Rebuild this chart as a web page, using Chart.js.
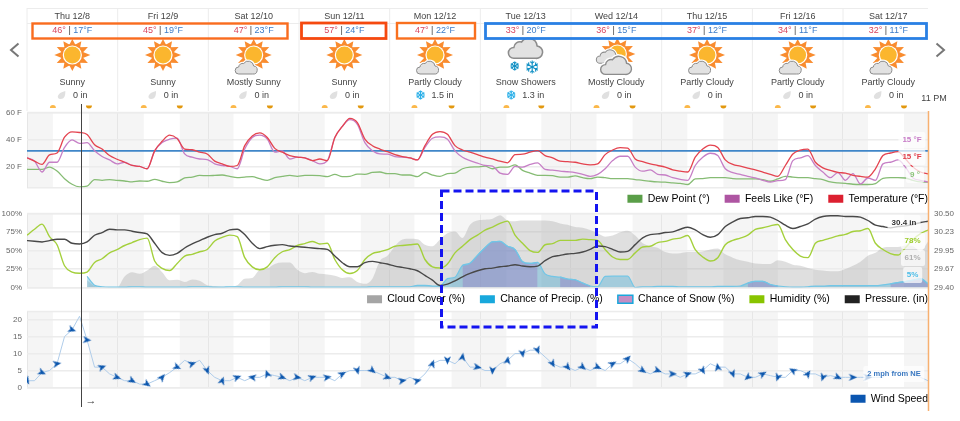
<!DOCTYPE html>
<html>
<head>
<meta charset="utf-8">
<title>10 day forecast</title>
<script src="https://cdn.jsdelivr.net/npm/chart.js@4"></script>
<style>
  html, body { margin: 0; padding: 0; background: #fff; }
  body { position: relative; width: 960px; height: 421px; overflow: hidden; font-family: "Liberation Sans", Arial, sans-serif; color: #444; }
  canvas { position: absolute; left: 0; }
  #overlay { position: absolute; left: 0; top: 0; }
  .txt { position: absolute; white-space: nowrap; transform: translate(-50%, -50%); font-size: 9px; line-height: 11px; }
  .hi { color: #d8435c; }
  .lo { color: #3c7cc8; }
  .tag { position: absolute; white-space: nowrap; transform: translate(-50%, -50%); font-size: 8px; font-weight: bold; line-height: 10px;
         padding: 3px 4px; background: rgba(255,255,255,.72); border-radius: 2px; }
</style>
</head>
<body>
<canvas id="tempChart" width="960" height="120" style="top:103px"></canvas>
<canvas id="humChart" width="960" height="120" style="top:203px"></canvas>
<canvas id="windChart" width="960" height="121" style="top:302px"></canvas>
<svg id="overlay" width="960" height="421" xmlns="http://www.w3.org/2000/svg"></svg>
<div id="texts"></div>

<script>
// шапка прогноза
const dayLabels = ['Thu 12/8', 'Fri 12/9', 'Sat 12/10', 'Sun 12/11', 'Mon 12/12', 'Tue 12/13', 'Wed 12/14', 'Thu 12/15', 'Fri 12/16', 'Sat 12/17'];
const highTemps = [46, 45, 47, 57, 47, 33, 36, 37, 34, 32];
const lowTemps = [17, 19, 23, 24, 22, 20, 15, 12, 11, 11];
const conditions = ['Sunny', 'Sunny', 'Mostly Sunny', 'Sunny', 'Partly Cloudy', 'Snow Showers', 'Mostly Cloudy', 'Partly Cloudy', 'Partly Cloudy', 'Partly Cloudy'];
const precipTotals = ['0 in', '0 in', '0 in', '0 in', '1.5 in', '1.3 in', '0 in', '0 in', '0 in', '0 in'];

// часы на оси
const sunriseHours = [6.9, 31.1, 55, 79.3, 103.2, 127.7, 151.7, 175.9, 200, 224];
const sunsetHours = [16.5, 40.7, 64.7, 88.9, 113.1, 137, 161.3, 185.5, 209.4, 233.6];
const dayStarts = [0, 24.1, 48.3, 72.4, 96.6, 120.7, 144.9, 169, 193.2, 217.3];
const sampleHours = Array.from({ length: 121 }, (_, i) => i * 2);

const tempTicks = [20, 40, 60];
const windTicks = [0, 5, 10, 15, 20];
const pressureTicks = [29.4, 29.675, 29.95, 30.225, 30.5];
const pressureTickLabels = ['29.40', '29.67', '29.95', '30.23', '30.50'];
const freezingLine = [32, 32];

const temperature = [
  26.8, 24.4, 22, 29, 30.4, 42, 46, 45.5, 44, 36.5,
  33.3, 28.5, 25.8, 23.6, 21.2, 20.5, 18.8, 32, 39, 43.5,
  41, 33.3, 32.8, 31, 29.7, 24.4, 22.4, 20.5, 21.2, 35.8,
  43, 45.2, 41.8, 33.8, 31, 28.5, 27.3, 26.8, 24.8, 26,
  24.8, 41.8, 50, 55.9, 52.7, 40.6, 35.8, 33.3, 31.4, 29.2,
  27.8, 26.8, 25.3, 35.8, 44.2, 46.2, 44.2, 35.8, 32.6, 31,
  29.2, 27.3, 26, 24.4, 23.2, 29.2, 29.5, 31, 32.1, 28.5,
  26.8, 24.4, 24, 23.6, 22.4, 21.7, 22.4, 29.2, 32.6, 34.3,
  34, 26, 24, 22.4, 21.2, 20, 18, 17, 16.4, 27.3,
  33.3, 36.2, 34.5, 25.3, 22, 20.7, 19.3, 18, 16.4, 14.7,
  13.2, 21.2, 29.7, 32.6, 33.3, 23.6, 19.5, 17.6, 16.1, 15.6,
  14, 13.2, 12.7, 18.8, 28.5, 30.4, 31.4, 26, 20, 16.4,
  15
];
const feelsLike = [
  26.8, 24.4, 16.4, 23.6, 23.6, 34.5, 40, 37.5, 38, 32,
  27.8, 25.3, 22.4, 23.6, 21.2, 20.5, 18.8, 32, 38.2, 40.6,
  41.3, 29.7, 27.3, 26, 25.6, 22.4, 21.2, 20.5, 18.8, 33.3,
  41.8, 43.5, 40.6, 31, 32, 26, 27.3, 26.8, 24.8, 22.4,
  24.8, 41.8, 50, 55, 51.5, 38, 32, 29.7, 29.5, 27.8,
  27.3, 26.8, 25.3, 34.5, 41.3, 42.3, 40.6, 32, 27.3, 24.8,
  23, 21.2, 20.7, 15.6, 14.7, 20.5, 20, 22, 23.2, 18.3,
  17.8, 17, 16.6, 16, 14.7, 13.2, 14.7, 18.8, 24.8, 28,
  28, 20, 17, 18, 14.7, 14.2, 12.2, 11, 10.3, 21.2,
  27.3, 30.2, 28.5, 18.8, 15.9, 14.7, 13.2, 12, 10.3, 9,
  10, 10.8, 24.8, 26.8, 28.5, 21.2, 16.4, 12.2, 16, 10.3,
  15.2, 7.6, 12, 10.3, 22.4, 23.6, 25.3, 20, 12, 10.3,
  9
];
const dewPoint = [
  18.3, 18.3, 18.3, 20, 17.1, 11.5, 7.4, 5.5, 6, 10.8,
  10.3, 10.8, 10.3, 9.8, 9.1, 9.8, 9.6, 11, 9.6, 8.6,
  9.1, 12, 12.7, 13.9, 13.7, 13.9, 14.2, 13.2, 12.2, 12.7,
  13, 11.5, 10.3, 12.2, 13.2, 13.9, 13.2, 13.9, 13.9, 13.7,
  13, 14.7, 13, 13.2, 14.9, 14.7, 16.1, 16.4, 15.2, 15.2,
  14.2, 14.2, 13, 16.1, 14.2, 13.2, 15.2, 15.6, 18.8, 20,
  20.2, 20.7, 18.8, 20, 20, 21.7, 17.6, 15.6, 13.9, 13.9,
  13.7, 12.7, 12.7, 13.5, 12.2, 11.5, 12.7, 12.2, 11.5, 11.5,
  11.5, 10.8, 10.3, 9.6, 9.1, 8.9, 8.4, 8, 7.2, 11.3,
  11.5, 12.2, 12.2, 12.2, 11.5, 11.3, 11.3, 11.3, 10.8, 9.6,
  11.3, 13.2, 12.7, 12.2, 12.2, 11.5, 10.8, 9.1, 8.4, 8.1,
  7.4, 7.2, 7.2, 7.9, 11.8, 12.2, 12.2, 12, 10.3, 9.1,
  8.9
];
const humidity = [
  71, 79, 86, 69, 58, 29.5, 21, 19.4, 21, 34,
  39, 47, 51.5, 57, 61, 65, 67, 36, 26, 23,
  32.6, 42.7, 45, 48.5, 51.5, 63, 68, 71, 69, 40.5,
  28, 24, 28, 40.5, 48.5, 51.5, 57, 59.5, 62.5, 59,
  60, 38, 24, 19, 23, 38, 46, 48.5, 51.5, 56,
  57, 58, 59, 38, 28, 26.4, 32, 47, 56, 65,
  71, 78, 82, 87, 90, 71, 60, 50, 47.6, 58,
  59.5, 64, 64, 64, 65.6, 65, 64, 51.5, 41.4, 38,
  38, 47, 55, 56, 61, 62.5, 65.6, 67, 70.5, 51.5,
  41.4, 36, 40.5, 58, 64, 67, 71, 79, 81, 83.7,
  85.5, 65, 51.5, 42.7, 40.5, 60, 64, 67, 70, 72,
  76, 77, 80, 60, 51.5, 46, 44, 54, 65, 73,
  78
];
const pressure = [
  30.10, 30.09, 30.08, 30.10, 30.12, 30.12, 30.06, 30.05, 30.08, 30.18,
  30.22, 30.27, 30.26, 30.26, 30.24, 30.22, 30.20, 30.06, 29.92, 29.88,
  29.91, 29.99, 30.05, 30.10, 30.15, 30.19, 30.21, 30.26, 30.27, 30.19,
  30.06, 29.98, 30.01, 30.03, 30.04, 30.02, 30.01, 30.0, 29.99, 29.98,
  29.97, 29.87, 29.77, 29.71, 29.71, 29.77, 29.79, 29.77, 29.75, 29.72,
  29.70, 29.68, 29.65, 29.58, 29.51, 29.43, 29.45, 29.50, 29.56, 29.61,
  29.65, 29.68, 29.69, 29.71, 29.72, 29.74, 29.72, 29.71, 29.72, 29.80,
  29.86, 29.88, 29.90, 29.91, 29.93, 29.97, 30.02, 30.01, 29.97, 29.93,
  29.94, 30.04, 30.14, 30.19, 30.20, 30.22, 30.23, 30.27, 30.30, 30.26,
  30.19, 30.15, 30.19, 30.31, 30.38, 30.43, 30.44, 30.46, 30.46, 30.45,
  30.40, 30.33, 30.28, 30.31, 30.35, 30.42, 30.46, 30.47, 30.47, 30.46,
  30.46, 30.45, 30.40, 30.33, 30.31, 30.29, 30.31, 30.32, 30.34, 30.37,
  30.39
];
const cloudCover = [
  null, null, null, null, null, null, null, null, 10, 2,
  0, 0, 0, 15, 20.7, 18.5, 23, 29.5, 20.7, 9.7,
  10.5, 7.5, 11, 9, 3, 2, 1, 1, 3, 12,
  13, 24, 26, 32, 34, 34, 24, 19.4, 21, 18.5,
  17.6, 16, 13, 14, 7.5, 5, 12, 36, 43, 56,
  65, 66, 65.6, 58, 56, 65, 73.6, 76, 67, 85,
  91, 92, 93.4, 98, 91, 90, 91, 91, 91, 91,
  90, 87, 85, 82, 81, 78, 73.6, 69, 70.5, 75,
  77, 70.5, 60, 56, 54, 48, 46, 46.5, 48, 48,
  49, 51.5, 53, 45, 40.5, 37, 35, 32.6, 32, 32,
  37, 35, 31, 29.5, 26.4, 24, 23, 22, 22, 25,
  29.5, 35, 43, 47, 54, 55, 55, 57, 56, 49,
  62
];
const precipChance = [
  null, null, null, null, null, null, null, null, 15, 3,
  1, 0.5, 0.5, 0.5, 1, 1, 0.5, 0.5, 0.5, 0.5,
  0.5, 0.5, 1, 1, 1, 0.5, 0.5, 1, 1, 0.5,
  0.5, 0.5, 0.5, 0.5, 1, 1, 1, 1, 0.5, 0.5,
  0.5, 0.5, 0.5, 0.5, 0.5, 0.5, 1, 1, 1, 1,
  1, 1, 3, 3, 2, 2, 12, 14, 30, 33,
  43.6, 54, 62, 62.5, 56, 51.5, 35, 32.6, 34, 18.5,
  15, 14, 11.5, 10.5, 6, 2, 1, 15, 15.4, 15.4,
  15.4, 0, 1, 1, 1.5, 1.5, 1.5, 1, 1, 1,
  1, 1, 1.5, 1.5, 1.5, 2, 6, 8.4, 8.4, 4,
  2, 1, 0.5, 0.5, 1, 2, 2, 2.5, 2.5, 2.5,
  2.5, 2.5, 2.5, 2.5, 3.5, 5, 6.6, 8, 10, 12,
  5
];
const snowChance = [
  null, null, null, null, null, null, null, null, null, null,
  null, null, null, null, null, null, null, null, null, null,
  null, null, null, null, null, null, null, null, null, null,
  null, null, null, null, null, null, null, null, null, null,
  null, null, null, null, null, null, null, null, null, null,
  null, null, null, null, null, null, null, null, 30, 33,
  43.6, 54, 62, 62.5, 56, 51.5, 35, 32.6, 34, null,
  null, 14, 11.5, 10.5, 6, 2, null, null, null, null,
  null, null, null, null, null, null, null, null, null, null,
  null, null, null, null, null, null, 6, 8.4, 8.4, 4,
  2, null, null, null, null, null, null, null, null, null,
  null, null, null, null, null, 5, 6.6, 8, 10, 12,
  5
];
const windSpeed = [
  2, 2, 4.4, 5, 7, 15, 17, 21, 14, 6,
  6, 4, 3, 2, 2, 1, 1, 2, 3, 4.4,
  6, 8, 7, 8, 5, 3, 2, 2, 3, 2,
  3, 3, 4, 3.5, 3, 2, 3, 2, 3, 3,
  3, 2, 4, 5, 5, 5, 5, 4, 3, 3,
  2, 3, 2, 4, 7, 8, 8, 7, 9, 6,
  6, 5, 5, 7, 8, 10, 10, 11, 11, 9,
  7, 6, 6, 5, 6, 5, 6, 5, 7, 7,
  8.5, 7, 5, 4, 5, 4, 4, 3, 4, 4,
  5, 7, 6, 6, 4, 4, 3, 3, 4, 3.5,
  3, 3, 5, 5, 4, 4, 3, 3.5, 3, 3,
  3, 3, 3, 3, 3, 5, 4.5, 5, 4, 3,
  2
];
// направление стрелки каждые 4 часа, градусы по часовой от севера
const windArrowDirs = [
  150, 115, 80, 110, 95, 70, 110, 120, 125, 40,
  115, 70, 160, 20, 70, 280, 340, 110, 100, 70,
  80, 60, 165, 130, 110, 80, 75, 20, 180, 10,
  100, 185, 10, 170, 160, 150, 140, 130, 115, 60,
  45, 125, 110, 90, 70, 150, 350, 160, 230, 60,
  200, 300, 35, 200, 115, 90, 90, 90, 0, 0,
  0
];

const PLOT_LEFT = 27;
const PLOT_RIGHT = 928;
const HOUR_PX = (PLOT_RIGHT - PLOT_LEFT) / 240;
const DAY_PX = 90.67;
const FONT = '"Liberation Sans", Arial, sans-serif';

function toPoints(values) {
  return values.map((v, i) => ({ x: sampleHours[i], y: v }));
}

const dayBands = {
  id: 'dayBands',
  beforeDraw(chart) {
    const { ctx, chartArea: a, scales: { x } } = chart;
    ctx.save();
    ctx.fillStyle = '#f5f5f5';
    ctx.fillRect(a.left, a.top, a.width, a.height);
    ctx.fillStyle = '#ffffff';
    sunriseHours.forEach((h, i) => {
      const x0 = x.getPixelForValue(h);
      ctx.fillRect(x0, a.top, x.getPixelForValue(sunsetHours[i]) - x0, a.height);
    });
    ctx.fillStyle = '#ececec';
    ctx.fillRect(a.left, a.top - 1, a.width, 1.5);
    ctx.fillRect(a.left, a.bottom - 0.5, a.width, 1.5);
    ctx.restore();
  }
};

// подвинуть легенду ближе к графику
const legendShift = {
  id: 'legendShift',
  afterLayout(chart, args, opts) {
    const l = chart.legend;
    l.top += opts.dy;
    l.bottom += opts.dy;
    l.left += 15;
    l.right += 15;
  }
};

function baseOptions(topPad, right, dy, yScales) {
  return {
    responsive: false,
    animation: false,
    events: [],
    layout: { padding: { top: topPad, right: right, left: 0, bottom: 0 } },
    elements: { point: { radius: 0 }, line: { cubicInterpolationMode: 'monotone' } },
    scales: Object.assign({
      x: {
        type: 'linear', min: 0, max: 240,
        border: { display: false },
        grid: { color: '#e6e6e6', drawTicks: false },
        ticks: { display: false, autoSkip: false },
        afterBuildTicks: (s) => { s.ticks = dayStarts.map(v => ({ value: v })); }
      }
    }, yScales),
    plugins: {
      tooltip: { enabled: false },
      legendShift: { dy: dy },
      legend: {
        position: 'bottom',
        align: 'end',
        fullSize: false,
        labels: {
          boxWidth: 15, boxHeight: 8, padding: 15, color: '#555',
          font: { family: FONT, size: 10.5 },
          generateLabels: (chart) => chart.data.datasets
            .map((d, i) => ({
              text: d.label, fillStyle: d.legendFill, strokeStyle: d.legendStroke || d.legendFill,
              lineWidth: d.legendStroke ? 1.5 : 0, datasetIndex: i, hidden: false
            }))
            .filter(it => it.text)
        }
      }
    }
  };
}

function leftAxis(extra) {
  return Object.assign({
    position: 'left',
    border: { display: false },
    grid: { color: '#ececec', lineWidth: 1.5, drawTicks: false },
    afterFit: (s) => { s.width = PLOT_LEFT; }
  }, extra);
}

const tickFont = { family: FONT, size: 8 };

function lineSet(label, values, color, width, order, legendFill) {
  return { label, data: toPoints(values), borderColor: color, borderWidth: width, fill: false, order, legendFill };
}

function areaSet(label, values, fillColor, lineColor, order, legendFill, legendStroke) {
  return {
    label, data: toPoints(values), borderColor: lineColor, borderWidth: lineColor === 'transparent' ? 0 : 1.2,
    backgroundColor: fillColor, fill: 'origin', spanGaps: false, order, legendFill, legendStroke
  };
}

new Chart(document.getElementById('tempChart'), {
  type: 'line',
  data: {
    datasets: [
      lineSet('Dew Point (°)', dewPoint, '#86bc74', 1.3, 2, '#5a9e48'),
      lineSet('Feels Like (°F)', feelsLike, '#c67fc6', 1.3, 1, '#ae55a2'),
      lineSet('Temperature (°F)', temperature, '#e4434f', 1.3, 0, '#dc2030'),
      { data: [{ x: 0, y: freezingLine[0] }, { x: 240, y: freezingLine[1] }], borderColor: '#3f86c8', borderWidth: 1.6, order: 3 }
    ]
  },
  options: baseOptions(8.5, 32, -9, {
    y: leftAxis({
      min: 5, max: 60,
      afterBuildTicks: (s) => { s.ticks = tempTicks.map(v => ({ value: v })); },
      ticks: { color: '#666', padding: 5, font: tickFont, callback: (v) => v + ' F' }
    })
  }),
  plugins: [dayBands, legendShift]
});

new Chart(document.getElementById('humChart'), {
  type: 'line',
  data: {
    datasets: [
      areaSet('Cloud Cover (%)', cloudCover, 'rgba(165,165,165,.36)', 'transparent', 5, '#a5a5a5'),
      areaSet('Chance of Precip. (%)', precipChance, 'rgba(40,165,215,.32)', '#72c6e6', 4, '#18a8dc'),
      areaSet('Chance of Snow (%)', snowChance, 'rgba(150,110,190,.36)', '#72c6e6', 3, '#c48ec4', '#18a8dc'),
      lineSet('Humidity (%)', humidity, '#a4d03c', 1.4, 1, '#88c400'),
      Object.assign(lineSet('Pressure. (in)', pressure, '#484848', 1.4, 0, '#222222'), { yAxisID: 'y1' })
    ]
  },
  options: baseOptions(8.7, 0, -8.6, {
    y: leftAxis({
      min: 0, max: 100,
      ticks: { color: '#666', padding: 5, stepSize: 25, font: tickFont, callback: (v) => v + '%' }
    }),
    y1: {
      position: 'right', min: 29.4, max: 30.5,
      border: { display: false },
      grid: { display: false, drawTicks: false },
      afterBuildTicks: (s) => { s.ticks = pressureTicks.map(v => ({ value: v })); },
      afterFit: (s) => { s.width = 32; },
      ticks: { color: '#666', padding: 6, font: tickFont, callback: (v, i) => pressureTickLabels[i] }
    }
  }),
  plugins: [dayBands, legendShift]
});

// наконечник стрелки ветра, носом вверх
const arrowTip = document.createElement('canvas');
arrowTip.width = 9;
arrowTip.height = 9;
(function () {
  const c = arrowTip.getContext('2d');
  c.fillStyle = '#0b56ad';
  c.beginPath();
  c.moveTo(4.5, 0.3);
  c.lineTo(8, 8.6);
  c.lineTo(4.5, 6.2);
  c.lineTo(1, 8.6);
  c.closePath();
  c.fill();
})();

new Chart(document.getElementById('windChart'), {
  type: 'line',
  data: {
    datasets: [
      Object.assign(lineSet('Wind Speed', windSpeed, '#b0cdea', 1, 1, '#0b56b0'), { cubicInterpolationMode: 'default', tension: 0 }),
      {
        data: toPoints(windSpeed).filter((p, i) => i % 2 === 0 && p.x <= 224),
        showLine: false, order: 0,
        pointStyle: arrowTip, pointRadius: 5, pointRotation: windArrowDirs
      }
    ]
  },
  options: baseOptions(8, 32, -9, {
    y: leftAxis({
      min: 0, max: 22.3,
      afterBuildTicks: (s) => { s.ticks = windTicks.map(v => ({ value: v })); },
      ticks: { color: '#666', padding: 5, font: tickFont }
    })
  }),
  plugins: [dayBands, legendShift]
});

// шапка: подписи дней и значки
const svg = document.getElementById('overlay');
const texts = document.getElementById('texts');
let svgParts = '';

function addText(html, x, y, style) {
  const el = document.createElement('div');
  el.className = 'txt';
  el.innerHTML = html;
  el.style.left = x + 'px';
  el.style.top = y + 'px';
  if (style) el.style.cssText += style;
  texts.appendChild(el);
}

function addTag(text, x, y, color, size) {
  const el = document.createElement('div');
  el.className = 'tag';
  el.textContent = text;
  el.style.left = x + 'px';
  el.style.top = y + 'px';
  el.style.color = color;
  if (size) el.style.fontSize = size + 'px';
  texts.appendChild(el);
}

function sunIcon(cx, cy) {
  let rays = '';
  for (let a = 0; a < 12; a++) {
    const t = a * Math.PI / 6;
    const b = Math.PI / 9;
    rays += `<polygon points="${cx + Math.sin(t) * 18},${cy - Math.cos(t) * 16} ${cx + Math.sin(t - b) * 10},${cy - Math.cos(t - b) * 10} ${cx + Math.sin(t + b) * 10},${cy - Math.cos(t + b) * 10}" fill="#f98c2f"/>`;
  }
  return rays + `<circle cx="${cx}" cy="${cy}" r="11" fill="#f98c2f"/><circle cx="${cx}" cy="${cy}" r="9.6" fill="#fff"/><circle cx="${cx}" cy="${cy}" r="8.4" fill="#fbb62e"/>`;
}

function cloudIcon(cx, cy, s) {
  const d = 'M-7 6 H7 A4 4 0 0 0 8 -2 A5.5 5.5 0 0 0 -2 -4.5 A4 4 0 0 0 -7 -1 A3.5 3.5 0 0 0 -7 6 Z';
  return `<g transform="translate(${cx} ${cy}) scale(${s})"><path d="${d}" fill="#fff" stroke="#fff" stroke-width="3"/><path d="${d}" fill="#e2e2e2" stroke="#8c8c8c" stroke-width="1"/></g>`;
}

function flakeIcon(cx, cy, size, color) {
  let arms = '';
  for (let a = 0; a < 3; a++) {
    arms += `<line x1="0" y1="${-size / 2}" x2="0" y2="${size / 2}" transform="rotate(${a * 60})"/>`;
    arms += `<polyline points="${-size / 6},${-size / 2.4} 0,${-size / 3.4} ${size / 6},${-size / 2.4}" fill="none" transform="rotate(${a * 60})"/>`;
    arms += `<polyline points="${-size / 6},${size / 2.4} 0,${size / 3.4} ${size / 6},${size / 2.4}" fill="none" transform="rotate(${a * 60})"/>`;
  }
  return `<g transform="translate(${cx} ${cy})" stroke="${color}" stroke-width="1.1">${arms}</g>`;
}

function dropIcon(cx, cy) {
  return `<path transform="translate(${cx} ${cy})" d="M4 -4 C4 -1 4 4 -1 4 C-5 4 -5 -2 4 -4 Z" fill="#e0e0e0"/>`;
}

function weatherIcon(kind, cx) {
  if (kind === 'Sunny') return sunIcon(cx, 55);
  if (kind === 'Mostly Sunny' || kind === 'Partly Cloudy') return sunIcon(cx, 55) + cloudIcon(cx - 8, 68, 1);
  if (kind === 'Snow Showers') {
    return cloudIcon(cx - 1, 49, 1.55) + flakeIcon(cx - 11, 66, 9, '#0e8fc4') + flakeIcon(cx + 6.5, 67, 13, '#0e8fc4');
  }
  return sunIcon(cx + 1, 54) + cloudIcon(cx - 9, 57, 1.05) + cloudIcon(cx - 1, 66, 1.4);
}

dayLabels.forEach((label, i) => {
  const cx = PLOT_LEFT + DAY_PX * (i + 0.5);
  addText(label, cx, 15.7);
  addText(`<span class="hi">${highTemps[i]}°</span> | <span class="lo">${lowTemps[i]}°F</span>`, cx, 30);
  addText(conditions[i], cx, 81.7);
  const hasSnow = precipTotals[i] !== '0 in';
  addText(precipTotals[i], cx + (hasSnow ? 7.5 : 8), 95);
  svgParts += hasSnow ? flakeIcon(cx - 14.5, 95, 9, '#2cb0e8') : dropIcon(cx - 11, 95);
  svgParts += weatherIcon(conditions[i], cx);
  const rise = PLOT_LEFT + sunriseHours[i] * HOUR_PX;
  const set = PLOT_LEFT + sunsetHours[i] * HOUR_PX;
  svgParts += `<path d="M${rise - 3} 108 A3 3 0 0 1 ${rise + 3} 108 Z" fill="#fbb84a"/>`;
  svgParts += `<path d="M${set - 3} 105.5 H${set + 3} A3 3 0 0 1 ${set - 3} 105.5 Z" fill="#e2980f"/>`;
  if (i > 0) {
    const lineX = PLOT_LEFT + DAY_PX * i;
    svgParts += `<line x1="${lineX}" y1="8" x2="${lineX}" y2="111" stroke="#ececec"/>`;
  }
});

// рамка шапки
svgParts = `<path d="M27 8.5 H928 M27 23.5 H928 M27 8 V111" stroke="#ececec" fill="none"/>` + svgParts;

// стрелки листания
svgParts += `<polyline points="18.5,43.5 11,50 18.5,56.5" fill="none" stroke="#777" stroke-width="2"/>`;
svgParts += `<polyline points="936.5,43.5 944,50 936.5,56.5" fill="none" stroke="#777" stroke-width="2"/>`;

// текущее время и правый край
svgParts += `<line x1="81.5" y1="104" x2="81.5" y2="407" stroke="#444" stroke-width="1"/>`;
svgParts += `<line x1="928.5" y1="111" x2="928.5" y2="411" stroke="#f7b070" stroke-width="1.5"/>`;

// пометки поверх графика
svgParts += `<rect x="32.5" y="23.5" width="255" height="15" fill="none" stroke="#f96c1e" stroke-width="2.4"/>`;
svgParts += `<rect x="301.5" y="23" width="84.5" height="15.5" fill="none" stroke="#f5490f" stroke-width="2.8"/>`;
svgParts += `<rect x="397" y="23" width="78" height="15.5" fill="none" stroke="#f9701e" stroke-width="2.4"/>`;
svgParts += `<rect x="485.5" y="23.5" width="441" height="15" fill="none" stroke="#2a80e4" stroke-width="2.8"/>`;
svgParts += `<rect x="441.5" y="191" width="155" height="136" fill="none" stroke="#1414f0" stroke-width="3" stroke-dasharray="8 4"/>`;
svg.innerHTML = svgParts;

addText('11 PM', 934, 98);
addText('→', 91, 400, 'font-size:11px;color:#333;');

addTag('15 °F', 912, 140, '#c77cc7');
addTag('15 °F', 912, 157, '#e0404c');
addTag('9 °', 915, 175, '#8cc47a');
addTag('30.4 in', 904, 223, '#333');
addTag('78%', 912.5, 240.7, '#9ccc2c');
addTag('61%', 912.5, 258, '#b0b0b0');
addTag('5%', 912.5, 274.7, '#4cbde8');
addTag('2 mph from NE', 894, 374, '#3a78c0', 7.5);
</script>
</body>
</html>
